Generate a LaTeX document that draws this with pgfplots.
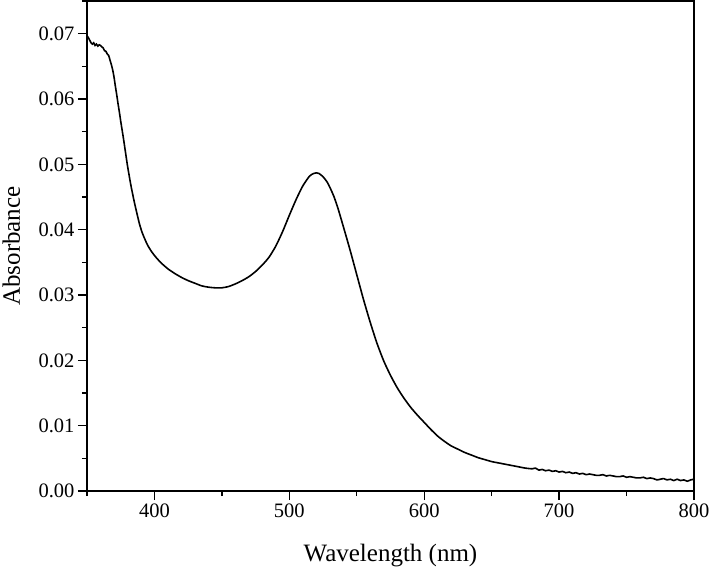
\documentclass[border=0pt]{standalone}
\usepackage{pgfplots}
\pgfplotsset{compat=1.18}
\usepackage{fontspec}
\setmainfont{Liberation Serif}
\begin{document}
\begin{tikzpicture}
\path[use as bounding box] (-87pt,-76pt) rectangle (622pt,491pt);
\begin{axis}[
  at={(0pt,0pt)}, anchor=south west,
  scale only axis, width=607pt, height=490pt,
  xmin=350, xmax=800, ymin=0, ymax=0.075,
  xtick={400,500,600,700,800},
  minor xtick={350,450,550,650,750},
  ytick={0,0.01,0.02,0.03,0.04,0.05,0.06,0.07},
  minor ytick={0.005,0.015,0.025,0.035,0.045,0.055,0.065,0.075},
  xtick pos=left, ytick pos=left,
  tick align=outside,
  major tick length=9pt, minor tick length=5pt,
  every tick/.style={black, line width=1.3pt},
  axis line style={line width=1.4pt},
  scaled y ticks=false,
  /pgf/number format/assume math mode=true,
  yticklabel style={/pgf/number format/.cd, fixed, fixed zerofill, precision=2},
  xticklabel style={/pgf/number format/.cd, set thousands separator={}},
  tick label style={font=\fontsize{20.5}{20.5}\selectfont},
  label style={font=\fontsize{25}{25}\selectfont},
  xlabel={Wavelength (nm)},
  ylabel={Absorbance},
  xlabel style={at={(axis description cs:0.5,-0.1449)}, anchor=base},
  ylabel style={at={(axis description cs:-0.1104,0.5)}, anchor=base},
]
\addplot[black, line width=1.6pt, smooth, tension=0.4] coordinates {
(350,0.0697) (351,0.0694) (352,0.0690) (353,0.0686) (354,0.0684) (355,0.0686)
(356,0.0682) (357,0.0684) (358,0.0681) (359,0.0683) (360,0.0682) (361,0.0680)
(362,0.0678) (363,0.0674) (364,0.0673) (365,0.0669) (366,0.0667) (367,0.0660)
(368,0.0653) (369,0.0645) (370,0.0634) (371,0.0620) (372,0.0607) (373,0.0593)
(374,0.0580) (375,0.0566) (376,0.0553) (377,0.0540) (378,0.0526) (379,0.0512)
(380,0.0498) (381,0.0486) (382,0.0474) (383,0.0463) (384,0.0453) (385,0.0443)
(387,0.0425) (389,0.0408) (391,0.0395) (393,0.0385) (395,0.0376) (398,0.0366)
(401,0.0358) (405,0.0349) (410,0.0340) (415,0.0333) (420,0.0327) (425,0.0322)
(430,0.0318) (435,0.0314) (440,0.0312) (445,0.0311) (450,0.0311) (455,0.0313)
(460,0.0317) (465,0.0322) (470,0.0328) (475,0.0336) (480,0.0346) (485,0.0358)
(490,0.0375) (495,0.0397) (500,0.0422) (505,0.0446) (510,0.0467) (515,0.0482)
(518,0.0486) (520,0.0487) (522,0.0486) (525,0.0481) (528,0.0473) (530,0.0465)
(533,0.0451) (536,0.0433) (540,0.0405) (545,0.0369) (550,0.0331) (555,0.0293)
(560,0.0258) (565,0.0226) (570,0.0199) (575,0.0177) (580,0.0158) (585,0.0142)
(590,0.0128) (595,0.0116) (600,0.0105) (605,0.0094) (610,0.0084) (615,0.0076)
(620,0.0069) (625,0.0064) (630,0.0059) (635,0.0055) (640,0.0051) (645,0.0048)
(650,0.0045) (655,0.0043) (660,0.0041) (665,0.0039) (670,0.0037) (675,0.0035)
(680,0.0034) (682.5,0.0035) (685,0.0032) (687.5,0.0033) (690,0.0031) (692.5,0.0032)
(695,0.0030) (697.5,0.0031) (700,0.0029) (702.5,0.0030) (705,0.0028) (707.5,0.0029)
(710,0.0027) (712.5,0.0028) (715,0.0026) (717.5,0.0027) (720,0.0025) (722.5,0.0026)
(725,0.0025) (727.5,0.0024) (730,0.0024) (732.5,0.0025) (735,0.0023) (737.5,0.0024)
(740,0.0023) (742.5,0.0022) (745,0.0022) (747.5,0.0023) (750,0.0021) (752.5,0.0022)
(755,0.0021) (757.5,0.0020) (760,0.0020) (762.5,0.0021) (765,0.0019) (767.5,0.0020)
(770,0.0019) (772.5,0.0017) (775,0.0018) (777.5,0.0019) (780,0.0017) (782.5,0.0018)
(785,0.0016) (787.5,0.0018) (790,0.0016) (792.5,0.0017) (795,0.0015) (797.5,0.0017)
(800,0.0018)
};
\end{axis}
\end{tikzpicture}
\end{document}
